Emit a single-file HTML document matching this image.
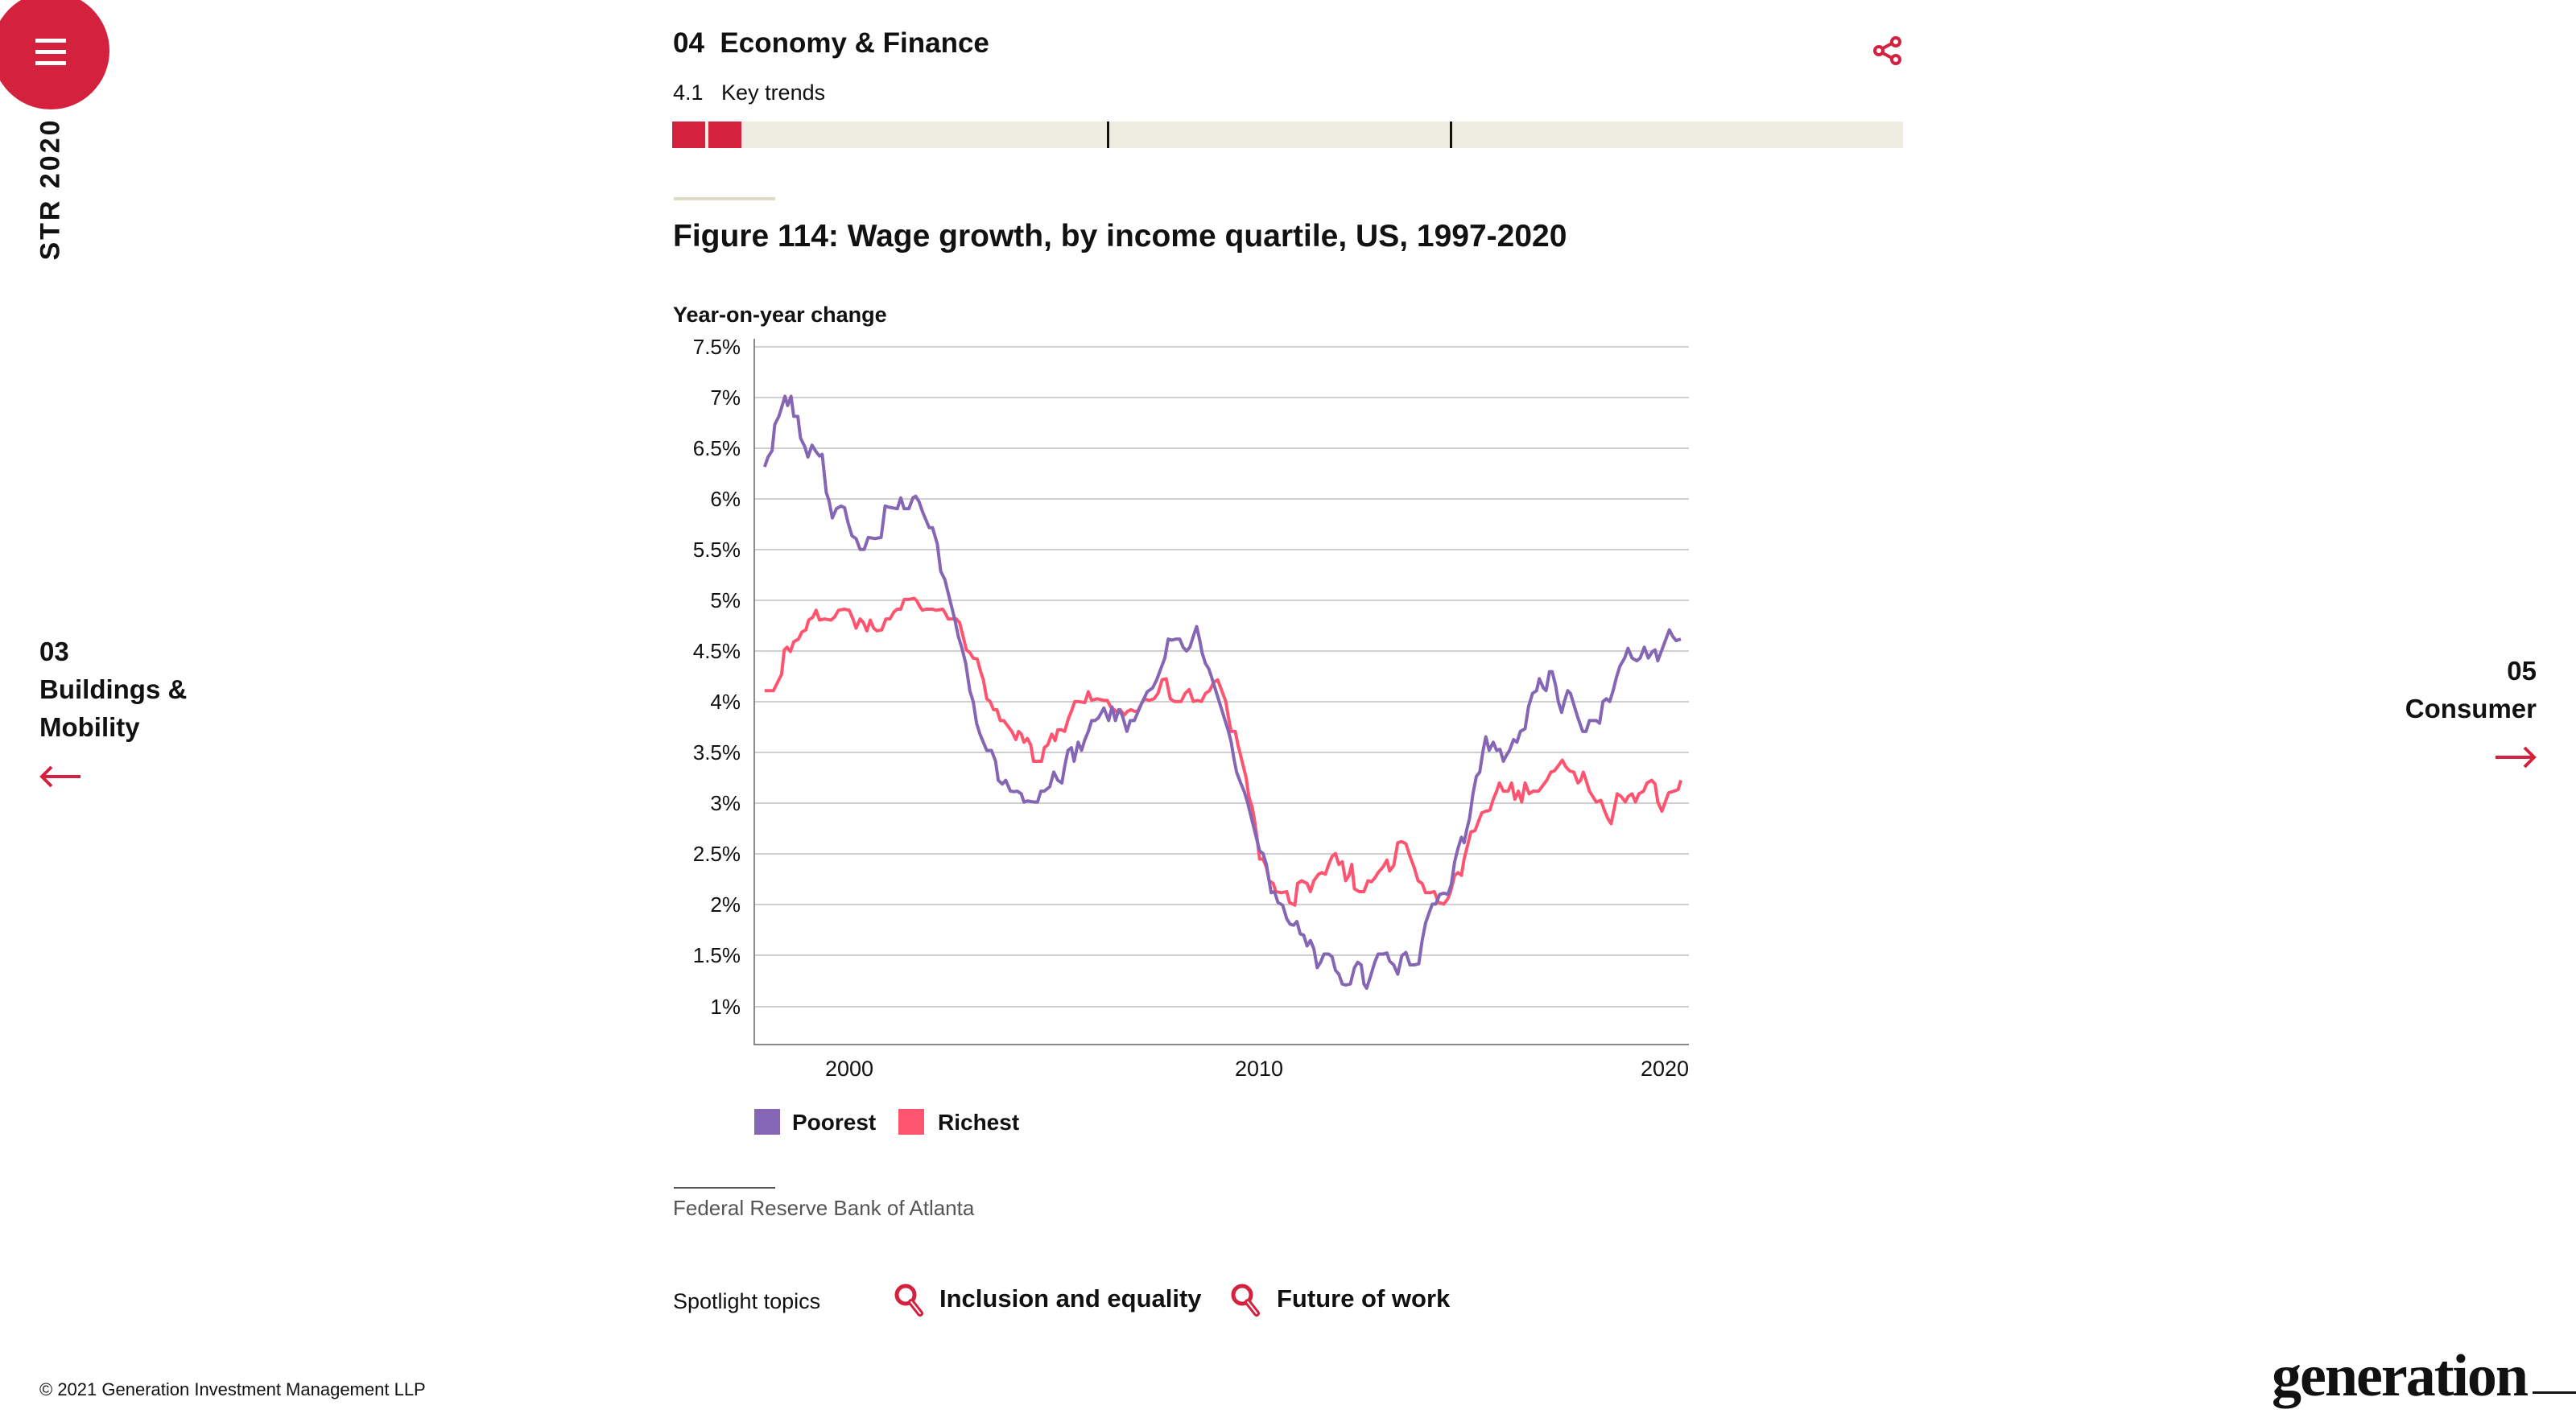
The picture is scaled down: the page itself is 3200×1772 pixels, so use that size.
<!DOCTYPE html>
<html><head><meta charset="utf-8"><style>
body{margin:0;width:3200px;height:1772px;background:#fff;position:relative;overflow:hidden;font-family:"Liberation Sans",sans-serif;color:#111}
.a{position:absolute;white-space:nowrap}
.b{font-weight:bold}
</style></head><body>
<div class="a" style="left:-10px;top:-10px;width:146px;height:146px;border-radius:50%;background:#d4213d"></div>
<div class="a" style="left:44px;top:48px;width:38px;height:5px;background:#fff;box-shadow:0 14px 0 #fff,0 28px 0 #fff"></div>
<div class="a b" style="left:63px;top:235px;transform:translate(-50%,-50%) rotate(-90deg);font-size:34px;letter-spacing:3px">STR 2020</div>

<div class="a b" style="left:836px;top:34px;font-size:35px">04&nbsp;&nbsp;Economy &amp; Finance</div>
<div class="a" style="left:836px;top:100px;font-size:27px">4.1&nbsp;&nbsp;&nbsp;Key trends</div>
<div class="a" style="left:835px;top:151px;width:1529px;height:33px;background:#efede1"></div>
<div class="a" style="left:835px;top:151px;width:41px;height:33px;background:#d4213d"></div>
<div class="a" style="left:880px;top:151px;width:41px;height:33px;background:#d4213d"></div>
<div class="a" style="left:1375px;top:151px;width:3px;height:33px;background:#111"></div>
<div class="a" style="left:1801px;top:151px;width:3px;height:33px;background:#111"></div>
<svg class="a" style="left:2325px;top:43px" width="40" height="40" viewBox="0 0 40 40"><g fill="none" stroke="#d4213d" stroke-width="4"><circle cx="30" cy="9" r="5"/><circle cx="9" cy="20" r="5"/><circle cx="30" cy="31" r="5"/><path d="M14 17L25 11M14 23L25 29"/></g></svg>

<div class="a" style="left:837px;top:245px;width:126px;height:4px;background:#dedcc5"></div>
<div class="a b" style="left:836px;top:272px;font-size:39px">Figure 114: Wage growth, by income quartile, US, 1997-2020</div>
<div class="a b" style="left:836px;top:376px;font-size:27px">Year-on-year change</div>

<svg class="a" style="left:0;top:0" width="3200" height="1772">
<g stroke="#cfcfcf" stroke-width="2">
<line x1="937" x2="2098" y1="431" y2="431"/><line x1="937" x2="2098" y1="494" y2="494"/><line x1="937" x2="2098" y1="557" y2="557"/><line x1="937" x2="2098" y1="620" y2="620"/><line x1="937" x2="2098" y1="683" y2="683"/><line x1="937" x2="2098" y1="746" y2="746"/><line x1="937" x2="2098" y1="809" y2="809"/><line x1="937" x2="2098" y1="872" y2="872"/><line x1="937" x2="2098" y1="935" y2="935"/><line x1="937" x2="2098" y1="998" y2="998"/><line x1="937" x2="2098" y1="1061" y2="1061"/><line x1="937" x2="2098" y1="1124" y2="1124"/><line x1="937" x2="2098" y1="1187" y2="1187"/><line x1="937" x2="2098" y1="1251" y2="1251"/>
</g>
<path d="M937 421V1298H2098" fill="none" stroke="#888" stroke-width="2"/>
<g font-size="26" text-anchor="end" fill="#111">
<text x="920" y="440">7.5%</text><text x="920" y="503">7%</text><text x="920" y="566">6.5%</text><text x="920" y="629">6%</text><text x="920" y="692">5.5%</text><text x="920" y="755">5%</text><text x="920" y="818">4.5%</text><text x="920" y="881">4%</text><text x="920" y="944">3.5%</text><text x="920" y="1007">3%</text><text x="920" y="1070">2.5%</text><text x="920" y="1133">2%</text><text x="920" y="1196">1.5%</text><text x="920" y="1260">1%</text>
</g>
<g font-size="27" text-anchor="middle" fill="#111"><text x="1055" y="1337">2000</text><text x="1564" y="1337">2010</text><text x="2068" y="1337">2020</text></g>
<g transform="translate(800.96,358.8) scale(0.8412,0.6749)" fill="none" stroke-width="4" stroke-linejoin="round">
<polyline vector-effect="non-scaling-stroke" stroke="#ff5470" points="177,740 190,740 196,725 202,710 206,665 210,660 215,668 220,650 227,645 232,632 238,628 242,610 248,605 253,592 258,610 265,608 275,610 280,605 286,592 295,590 302,592 308,610 312,625 318,608 323,615 328,630 333,610 338,625 343,630 350,628 356,608 362,608 368,595 373,590 378,590 383,572 390,572 398,570 402,575 406,585 410,592 415,590 425,590 430,592 440,590 444,598 448,608 460,608 465,615 470,640 475,665 480,670 485,680 491,682 496,705 500,720 505,755 510,760 515,775 520,775 525,795 530,795 536,805 542,815 548,830 552,815 556,820 560,835 565,828 570,840 574,870 580,870 586,870 590,845 595,840 601,820 606,832 610,812 615,812 620,815 626,790 630,778 635,760 640,760 650,762 655,742 660,758 668,755 678,758 683,758 688,770 693,775 698,780 702,775 708,785 713,778 718,775 723,778 728,778 733,765 738,755 745,758 752,755 758,745 764,720 770,718 776,755 782,760 792,760 798,745 804,738 810,760 816,758 822,760 828,745 834,740 840,725 846,720 852,740 858,760 862,790 866,815 872,815 876,840 880,860 884,880 888,900 892,935 897,955 900,975 904,1010 908,1050 913,1050 918,1065 922,1090 928,1095 932,1110 940,1112 948,1110 952,1130 960,1135 964,1095 970,1090 978,1095 983,1110 988,1090 995,1078 1000,1075 1005,1078 1010,1060 1015,1045 1020,1040 1025,1060 1030,1055 1035,1090 1040,1080 1044,1060 1048,1105 1055,1110 1062,1110 1068,1090 1073,1092 1078,1085 1083,1075 1090,1065 1096,1052 1100,1072 1106,1062 1112,1020 1118,1018 1124,1022 1130,1045 1136,1065 1142,1090 1148,1095 1153,1112 1160,1112 1166,1110 1172,1130 1180,1133 1186,1123 1190,1110 1196,1080 1201,1075 1206,1080 1210,1050 1214,1030 1220,1000 1226,998 1232,978 1236,965 1242,962 1248,960 1253,940 1258,925 1262,910 1268,925 1275,925 1280,910 1285,940 1290,925 1295,945 1300,910 1306,930 1312,925 1320,925 1326,915 1332,905 1338,890 1343,888 1348,880 1355,868 1360,880 1366,888 1372,890 1378,910 1382,905 1386,890 1390,905 1395,925 1400,935 1405,945 1412,942 1417,960 1422,975 1427,985 1432,955 1436,930 1442,935 1448,945 1452,935 1458,930 1463,945 1468,930 1475,925 1480,910 1487,905 1492,912 1496,945 1502,962 1507,945 1512,928 1520,925 1526,922 1530,905"/>
<polyline vector-effect="non-scaling-stroke" stroke="#8566b5" points="177,328 182,310 188,298 192,250 198,235 203,215 207,198 211,215 216,198 220,235 226,235 230,275 236,290 241,310 247,288 253,300 258,308 262,305 268,375 272,390 277,422 283,405 290,400 295,403 300,430 306,455 312,460 318,480 324,480 330,458 340,460 349,458 355,400 360,402 368,404 373,405 378,385 383,405 390,405 396,385 400,382 405,392 410,410 415,425 420,440 425,440 432,470 437,520 443,535 448,560 452,580 458,610 463,640 468,660 474,690 480,740 485,760 490,800 495,820 500,835 505,850 512,850 518,870 522,905 528,912 533,905 540,925 545,926 550,925 556,930 560,945 565,943 575,945 580,945 585,925 590,925 598,917 604,890 610,905 616,910 620,880 625,850 630,845 634,870 640,835 645,850 650,830 655,815 660,795 665,795 670,790 678,772 685,795 690,770 695,795 700,775 705,785 712,815 717,795 723,795 728,780 735,760 742,742 750,735 756,720 762,700 768,680 773,645 778,647 785,645 790,645 795,660 800,667 805,660 810,640 815,622 820,650 823,670 828,690 833,700 837,715 842,735 847,755 852,775 857,795 862,815 866,835 870,865 874,890 880,910 885,925 890,945 895,970 898,985 903,1010 908,1035 913,1040 918,1060 922,1090 925,1112 930,1110 935,1130 942,1135 948,1160 953,1170 958,1172 963,1165 968,1188 973,1190 978,1210 983,1200 988,1215 993,1250 998,1240 1003,1225 1010,1225 1015,1230 1020,1255 1025,1262 1030,1280 1035,1282 1042,1280 1048,1250 1053,1240 1058,1245 1062,1280 1066,1288 1072,1265 1078,1240 1083,1225 1090,1225 1096,1223 1100,1238 1106,1245 1112,1262 1118,1228 1124,1222 1130,1245 1136,1245 1143,1243 1148,1200 1153,1168 1158,1150 1163,1133 1168,1133 1174,1115 1180,1113 1186,1115 1191,1097 1196,1055 1201,1030 1206,1010 1210,1020 1214,995 1218,975 1223,930 1228,898 1233,890 1238,850 1242,825 1247,850 1253,835 1258,850 1263,848 1268,870 1272,860 1277,850 1283,830 1288,835 1293,815 1300,810 1305,770 1311,745 1317,740 1321,718 1327,735 1331,740 1336,705 1340,705 1345,730 1349,760 1354,780 1358,760 1363,740 1367,745 1373,770 1378,790 1385,815 1390,815 1395,795 1405,795 1410,800 1415,760 1420,755 1425,760 1430,740 1435,715 1440,695 1447,680 1452,662 1458,680 1465,685 1470,680 1476,660 1482,680 1488,668 1492,665 1496,685 1502,665 1508,645 1513,628 1518,640 1523,648 1530,645"/>
</g>
<rect x="937" y="1378" width="32" height="32" fill="#8566b5"/>
<rect x="1116" y="1378" width="32" height="32" fill="#ff5470"/>
<g font-size="28" font-weight="bold" fill="#111"><text x="984" y="1404">Poorest</text><text x="1165" y="1404">Richest</text></g>
</svg>

<div class="a" style="left:837px;top:1475px;width:126px;height:2px;background:#555"></div>
<div class="a" style="left:836px;top:1486px;font-size:26px;color:#555">Federal Reserve Bank of Atlanta</div>
<div class="a" style="left:836px;top:1602px;font-size:27px">Spotlight topics</div>
<svg class="a" style="left:1110px;top:1594px" width="42" height="42" viewBox="0 0 42 42"><g fill="none" stroke="#d4213d" stroke-width="5"><circle cx="15" cy="15" r="11"/><path d="M22 24l11 14" stroke-width="8" stroke-linecap="round"/></g><path d="M22 24l11 14" stroke="#fff" stroke-width="2" stroke-linecap="round"/></svg>
<div class="a b" style="left:1167px;top:1596px;font-size:31px">Inclusion and equality</div>
<svg class="a" style="left:1528px;top:1594px" width="42" height="42" viewBox="0 0 42 42"><g fill="none" stroke="#d4213d" stroke-width="5"><circle cx="15" cy="15" r="11"/><path d="M22 24l11 14" stroke-width="8" stroke-linecap="round"/></g><path d="M22 24l11 14" stroke="#fff" stroke-width="2" stroke-linecap="round"/></svg>
<div class="a b" style="left:1586px;top:1596px;font-size:31px">Future of work</div>

<div class="a b" style="left:49px;top:786px;font-size:33px;line-height:47px">03<br>Buildings &amp;<br>Mobility</div>
<svg class="a" style="left:48px;top:950px" width="54" height="30" viewBox="0 0 54 30"><path d="M52 15H4M16 3L4 15l12 12" fill="none" stroke="#d4213d" stroke-width="4"/></svg>
<div class="a b" style="right:49px;top:810px;font-size:33px;line-height:47px;text-align:right">05<br>Consumer</div>
<svg class="a" style="left:3098px;top:926px" width="54" height="30" viewBox="0 0 54 30"><path d="M2 15h48M38 3l12 12-12 12" fill="none" stroke="#d4213d" stroke-width="4"/></svg>

<div class="a" style="left:49px;top:1714px;font-size:22px">© 2021 Generation Investment Management LLP</div>
<div class="a b" style="left:2822px;top:1668px;font-size:74px;font-family:'Liberation Serif',serif;letter-spacing:-2px">generation</div>
<div class="a" style="left:3146px;top:1729px;width:54px;height:3px;background:#111"></div>
</body></html>
